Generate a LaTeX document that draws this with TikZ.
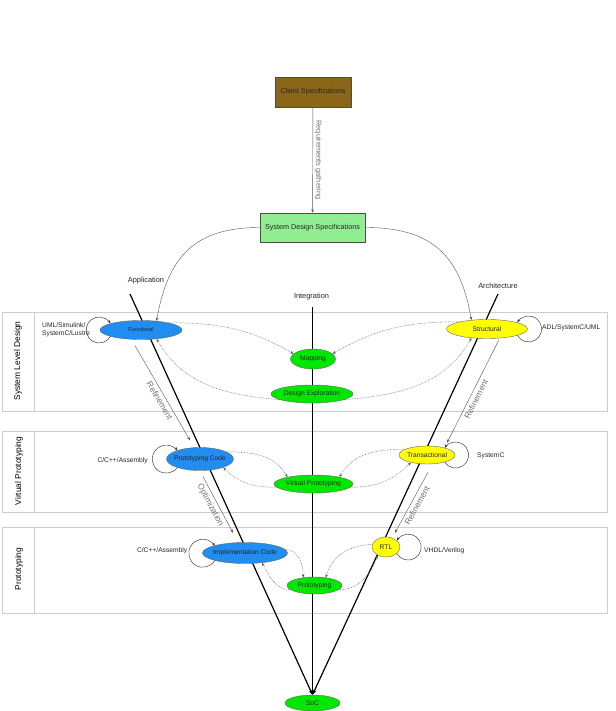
\documentclass[tikz,border=0pt]{standalone}
\usepackage{fontspec}
\setmainfont{Liberation Sans}
\usetikzlibrary{shapes.geometric,arrows.meta,backgrounds}
\definecolor{clientbrown}{RGB}{140,102,24}
\definecolor{sdsgreen}{RGB}{144,238,144}
\definecolor{funblue}{RGB}{32,142,240}
\definecolor{archyellow}{RGB}{255,255,0}
\definecolor{intgreen}{RGB}{0,232,0}
\definecolor{bandgray}{RGB}{205,205,205}
\definecolor{linkgray}{RGB}{85,85,85}
\begin{document}
\begin{tikzpicture}[x=1pt,y=1pt,
  box/.style={draw=black!70, line width=0.5pt, inner sep=0pt, font=\fontsize{7.2}{8}\selectfont, text=black!85},
  ell/.style={ellipse, draw=black!60, line width=0.4pt, inner xsep=-3pt, inner ysep=0pt, font=\fontsize{6.7}{8}\selectfont, text=black!85},
  vline/.style={line width=1.2pt, -{Stealth[length=5pt,width=3.6pt]}},
  link/.style={linkgray, line width=0.4pt, -{Stealth[length=3.5pt,width=2.6pt]}},
  dotlink/.style={link, dash pattern=on 0.7pt off 0.9pt},
  selfloop/.style={black!80, line width=0.45pt, -{Stealth[length=3.5pt,width=2.6pt]}},
  lbl/.style={inner sep=0pt, font=\fontsize{6.7}{8}\selectfont, text=black!85},
  toplbl/.style={inner sep=0pt, font=\fontsize{7.4}{9}\selectfont, text=black!85},
  bandlbl/.style={inner sep=0pt, font=\fontsize{8.4}{10}\selectfont, rotate=90},
  band/.style={draw=bandgray, line width=0.7pt},
  edgelbl/.style={inner sep=3pt, font=\fontsize{8.4}{10}\selectfont, text=black!55},
  reqlbl/.style={inner sep=2pt, font=\fontsize{7.4}{9}\selectfont, text=black!55}
]
\useasboundingbox (0,-711) rectangle (615,0);

% boxes
\node[box, fill=clientbrown, minimum width=76pt, minimum height=30pt] (client) at (313,-92) {Client Specifications};
\node[box, fill=sdsgreen, minimum width=105pt, minimum height=29pt] (sds) at (312.5,-227.5) {System Design Specifications};

% ellipses
\node[ell, fill=funblue, minimum width=82pt, minimum height=19pt, font=\fontsize{5.5}{6.5}\selectfont] (fun) at (141,-330) {Functional};
\node[ell, fill=archyellow, minimum width=81pt, minimum height=19pt] (str) at (487,-329) {Structural};
\node[ell, fill=intgreen, minimum width=45pt, minimum height=20pt] (map) at (313,-359) {Mapping};
\node[ell, fill=intgreen, minimum width=82pt, minimum height=18pt] (de) at (312,-394) {Design Exploration};
\node[ell, fill=funblue, minimum width=67pt, minimum height=23pt] (pc) at (200,-459) {Prototyping Code};
\node[ell, fill=archyellow, minimum width=56pt, minimum height=18pt] (tr) at (427,-455) {Transactional};
\node[ell, fill=intgreen, minimum width=79pt, minimum height=18pt] (vp) at (313.5,-484) {Virtual Prototyping};
\node[ell, fill=funblue, minimum width=85pt, minimum height=21pt] (ic) at (245,-553) {Implementation Code};
\node[ell, fill=archyellow, minimum width=28pt, minimum height=20pt] (rtl) at (386,-547) {RTL};
\node[ell, fill=intgreen, minimum width=55pt, minimum height=17pt] (pr) at (314.5,-585.5) {Prototyping};
\node[ell, fill=intgreen, minimum width=55pt, minimum height=16pt] (soc) at (312.5,-703) {SoC};

% text labels
\node[toplbl] (app) at (146,-281) {Application};
\node[toplbl] (integ) at (311.5,-297) {Integration};
\node[toplbl] (arch) at (498,-286) {Architecture};
\node[bandlbl] (bl1) at (18,-361) {System Level Design};
\node[bandlbl] (bl2) at (19,-471) {Virtual Prototyping};
\node[bandlbl] (bl3) at (19,-569) {Prototyping};
\node[lbl, anchor=west, align=left] (lfun) at (42,-330) {UML/Simulink/\\SystemC/Lustre};
\node[lbl, anchor=west] (lstr) at (542,-328) {ADL/SystemC/UML};
\node[lbl, anchor=east] (lpc) at (148,-461) {C/C++/Assembly};
\node[lbl, anchor=east] (lic) at (187.5,-551) {C/C++/Assembly};
\node[lbl, anchor=west] (ltr) at (477,-456) {SystemC};
\node[lbl, anchor=west] (lrtl) at (424,-551) {VHDL/Verilog};

\coordinate (appTop) at (130,-294);
\coordinate (archTop) at (498,-294);
\coordinate (intTop) at (312.5,-307);

\begin{scope}[on background layer]
  \fill[white] (0,-711) rectangle (615,0);
  \draw[band] (2,-312) rectangle (607,-411); \draw[band] (34,-312) -- (34,-411);
  \draw[band] (2,-431) rectangle (607,-512); \draw[band] (34,-431) -- (34,-512);
  \draw[band] (2,-527) rectangle (607,-613); \draw[band] (34,-527) -- (34,-613);
  \draw[vline] (appTop) -- (soc.north);
  \draw[vline] (archTop) -- (soc.north);
  \draw[vline] (intTop) -- (soc.north);
\end{scope}

% requirements
\draw[link] (client) -- (sds) node[midway, rotate=-90, anchor=south, reqlbl] {Requirements gathering};
\draw[link] (sds.west) to[out=180, in=80, looseness=1.2] (fun.30);
\draw[link] (sds.east) to[out=0, in=100, looseness=1.2] (str.150);

% dotted links
\draw[dotlink] (fun.15) to[out=0, in=150] (map.165);
\draw[dotlink] (str.165) to[out=180, in=30] (map.15);
\draw[dotlink] (de.190) to[out=175, in=-60] (fun.-30);
\draw[dotlink] (de.-10) to[out=5, in=-120] (str.-150);
\draw[dotlink] (pc.15) to[out=0, in=120] (vp.165);
\draw[dotlink] (vp.185) to[out=180, in=-45] (pc.-20);
\draw[dotlink] (tr.165) to[out=180, in=60] (vp.15);
\draw[dotlink] (vp.-5) to[out=0, in=-135] (tr.-155);
\draw[dotlink] (ic.5) to[out=0, in=90] (pr.145);
\draw[dotlink] (pr.190) to[out=180, in=-60] (ic.-30);
\draw[dotlink] (rtl.170) to[out=180, in=75] (pr.35);
\draw[dotlink] (pr.-10) to[out=0, in=-110] (rtl.-135);

% refinement / optimization
\draw[link] ([xshift=-6pt,yshift=-6pt]fun.south) -- ([xshift=-10pt,yshift=7pt]pc.north)
  node[pos=0.55, sloped, below, edgelbl] {Refinement};
\draw[link] ([xshift=3pt,yshift=-6pt]pc.south) -- ([xshift=-12pt,yshift=9.5pt]ic.north)
  node[pos=0.45, sloped, below, edgelbl] {Optimization};
\draw[link] ([xshift=12pt,yshift=-1pt]str.south) -- ([xshift=20pt,yshift=3pt]tr.north)
  node[pos=0.55, sloped, below, edgelbl] {Refinement};
\draw[link] ([xshift=1pt,yshift=-8pt]tr.south) -- ([xshift=9pt,yshift=4pt]rtl.north)
  node[pos=0.5, sloped, below, edgelbl] {Refinement};

% self loops
\draw[selfloop] (fun.-168) arc[start angle=-30, end angle=-330, radius=13];
\draw[selfloop] (str.-12.5) arc[start angle=210, end angle=510, radius=13];
\draw[selfloop] (pc.-159) arc[start angle=-37.6, end angle=-322.4, radius=14];
\draw[selfloop] (ic.-166.6) arc[start angle=-31.4, end angle=-328.6, radius=14];
\draw[selfloop] (tr.-22.6) arc[start angle=213.2, end angle=506.8, radius=13];
\draw[selfloop] (rtl.-31) arc[start angle=209.7, end angle=510.3, radius=13];
\end{tikzpicture}
\end{document}
